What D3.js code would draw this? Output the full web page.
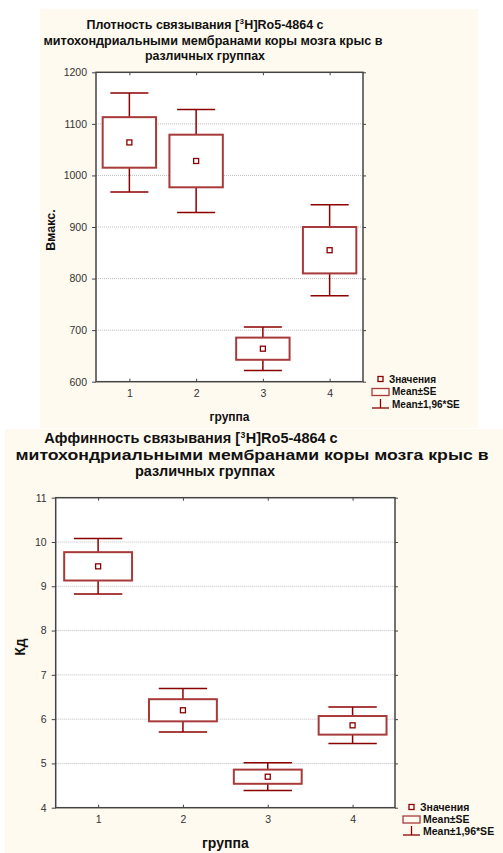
<!DOCTYPE html>
<html lang="ru">
<head>
<meta charset="utf-8">
<title>Ro5-4864 boxplots</title>
<script src="https://d3js.org/d3.v7.min.js"></script>
<style>
  body { margin: 0; background: #fff; }
  svg { display: block; font-family: "Liberation Sans", Arial, sans-serif; }
</style>
</head>
<body>
<script>
// data
var groups = [1, 2, 3, 4];
var bmaxMean = [1064, 1028, 664, 855];
var bmaxSE = [49, 51, 21.5, 45];
var bmaxTicks = [600, 700, 800, 900, 1000, 1100, 1200];

var kdMean = [9.45, 6.20, 4.70, 5.86];
var kdSE = [0.32, 0.25, 0.16, 0.21];
var kdTicks = [4, 5, 6, 7, 8, 9, 10, 11];

var legendItems = ["Значения", "Mean±SE", "Mean±1,96*SE"];

var w = 503, h = 853;
var dark = "#8b0000";
var boxCol = "#a83a3a";

var svg = d3.select("body").append("svg")
  .attr("width", w)
  .attr("height", h);

function panel(p) {
  var g = svg.append("g");

  g.append("rect")
    .attr("x", p.bg[0]).attr("y", p.bg[1])
    .attr("width", p.bg[2]).attr("height", p.bg[3])
    .attr("fill", "#fffaef");

  // title; plain lines are stretched to the width seen in the picture
  p.title.forEach(function(t, i) {
    var tx = g.append("text")
      .attr("x", t.x).attr("y", p.titleY[i])
      .attr("text-anchor", "middle")
      .attr("font-weight", "bold")
      .attr("font-size", p.titleSize)
      .attr("fill", "#111");
    if (t.sup) {
      tx.append("tspan").text(t.pre);
      tx.append("tspan").text("3").attr("font-size", p.titleSize * 0.6).attr("dx", 0.5).attr("dy", -5);
      tx.append("tspan").text(t.post).attr("dx", 0.5).attr("dy", 5);
    } else {
      tx.text(t.text)
        .attr("textLength", t.len)
        .attr("lengthAdjust", "spacingAndGlyphs");
    }
  });

  var x = d3.scaleLinear().domain([0.5, 4.5]).range([p.left, p.right]);
  var y = d3.scaleLinear().domain(p.domain).range([p.bottom, p.top]);
  var unit = x(1) - x(0);
  var fmt = d3.format("d");

  g.append("rect")
    .attr("x", p.left).attr("y", p.top)
    .attr("width", p.right - p.left).attr("height", p.bottom - p.top)
    .attr("fill", "#fff");

  // grid
  g.selectAll(".grid").data(p.ticks.slice(1, -1)).enter().append("line")
    .attr("x1", p.left).attr("x2", p.right)
    .attr("y1", function(d) { return y(d); })
    .attr("y2", function(d) { return y(d); })
    .attr("stroke", "#bdbdbd")
    .attr("stroke-dasharray", "1,1");

  // axes
  var yAxis = d3.axisLeft(y).tickValues(p.ticks).tickFormat(fmt).tickSize(4).tickPadding(5);
  g.append("g")
    .attr("transform", "translate(" + p.left + ",0)")
    .call(yAxis)
    .call(function(a) {
      a.select(".domain").remove();
      a.selectAll("text").attr("font-size", 10.5).attr("fill", "#333").attr("font-family", "Liberation Sans, Arial");
      a.selectAll("line").attr("stroke", "#444");
    });
  var yAxisR = d3.axisRight(y).tickValues(p.ticks).tickSize(3).tickFormat("");
  g.append("g")
    .attr("transform", "translate(" + p.right + ",0)")
    .call(yAxisR)
    .call(function(a) {
      a.select(".domain").remove();
      a.selectAll("line").attr("stroke", "#444");
    });
  var xAxis = d3.axisBottom(x).tickValues(groups).tickFormat(fmt).tickSize(-3).tickPadding(8);
  g.append("g")
    .attr("transform", "translate(0," + p.bottom + ")")
    .call(xAxis)
    .call(function(a) {
      a.select(".domain").remove();
      a.selectAll("text").attr("font-size", 10.5).attr("fill", "#333").attr("font-family", "Liberation Sans, Arial");
      a.selectAll("line").attr("stroke", "#444");
    });
  var xAxisT = d3.axisTop(x).tickValues(groups).tickSize(-3).tickFormat("");
  g.append("g")
    .attr("transform", "translate(0," + p.top + ")")
    .call(xAxisT)
    .call(function(a) {
      a.select(".domain").remove();
      a.selectAll("line").attr("stroke", "#444");
    });

  g.append("rect")
    .attr("x", p.left).attr("y", p.top)
    .attr("width", p.right - p.left).attr("height", p.bottom - p.top)
    .attr("fill", "none")
    .attr("stroke", "#444")
    .attr("stroke-width", 1.5);

  // boxes
  var rows = groups.map(function(gr, i) {
    return { g: gr, m: p.mean[i], se: p.se[i] };
  });
  var item = g.selectAll(".item").data(rows).enter().append("g");

  item.append("line")
    .attr("x1", function(d) { return x(d.g); })
    .attr("x2", function(d) { return x(d.g); })
    .attr("y1", function(d) { return y(d.m + 1.96 * d.se); })
    .attr("y2", function(d) { return y(d.m - 1.96 * d.se); })
    .attr("stroke", dark).attr("stroke-width", 1.5);
  [1.96, -1.96].forEach(function(k) {
    item.append("line")
      .attr("x1", function(d) { return x(d.g) - unit * 0.285; })
      .attr("x2", function(d) { return x(d.g) + unit * 0.285; })
      .attr("y1", function(d) { return y(d.m + k * d.se); })
      .attr("y2", function(d) { return y(d.m + k * d.se); })
      .attr("stroke", dark).attr("stroke-width", 1.5);
  });
  item.append("rect")
    .attr("x", function(d) { return x(d.g) - unit * 0.4; })
    .attr("width", unit * 0.8)
    .attr("y", function(d) { return y(d.m + d.se); })
    .attr("height", function(d) { return y(d.m - d.se) - y(d.m + d.se); })
    .attr("fill", "#fff")
    .attr("stroke", boxCol).attr("stroke-width", 2);
  item.append("rect")
    .attr("x", function(d) { return x(d.g) - 2.5; })
    .attr("y", function(d) { return y(d.m) - 2.5; })
    .attr("width", 5).attr("height", 5)
    .attr("fill", "#fff")
    .attr("stroke", dark).attr("stroke-width", 1.3);

  // axis titles
  g.append("text")
    .attr("transform", "translate(" + p.yLab[0] + "," + p.yLab[1] + ") rotate(-90)")
    .attr("text-anchor", "middle")
    .attr("font-weight", "bold").attr("font-size", p.yLabSize)
    .attr("fill", "#111")
    .text(p.yTitle);
  g.append("text")
    .attr("x", (p.left + p.right) / 2).attr("y", p.xLabY)
    .attr("text-anchor", "middle")
    .attr("font-weight", "bold").attr("font-size", p.xLabSize)
    .attr("fill", "#111")
    .text("группа");

  // legend
  var L = p.legend;
  g.append("rect")
    .attr("x", L.x + 3).attr("y", L.y - 2.5)
    .attr("width", 5).attr("height", 5)
    .attr("fill", "#fff").attr("stroke", dark).attr("stroke-width", 1.3);
  g.append("rect")
    .attr("x", L.x - 3).attr("y", L.y + L.dy - 3)
    .attr("width", 17).attr("height", 7)
    .attr("fill", "none").attr("stroke", boxCol).attr("stroke-width", 1.3);
  g.append("line")
    .attr("x1", L.x - 3).attr("x2", L.x + 14)
    .attr("y1", L.y + 2 * L.dy + 4).attr("y2", L.y + 2 * L.dy + 4)
    .attr("stroke", dark).attr("stroke-width", 1.3);
  g.append("line")
    .attr("x1", L.x + 5.5).attr("x2", L.x + 5.5)
    .attr("y1", L.y + 2 * L.dy - 5).attr("y2", L.y + 2 * L.dy + 4)
    .attr("stroke", dark).attr("stroke-width", 1.3);
  g.selectAll(".leg").data(legendItems).enter().append("text")
    .attr("x", function(d, i) { return i === 0 ? L.x + 14 : L.x + 17; })
    .attr("y", function(d, i) { return L.y + i * L.dy + 3.5; })
    .attr("font-weight", "bold").attr("font-size", L.size)
    .attr("fill", "#111")
    .text(function(d) { return d; });
}

panel({
  bg: [40, 9, 438, 419],
  left: 96, right: 363, top: 72.3, bottom: 381.7,
  domain: [600, 1200], ticks: bmaxTicks,
  mean: bmaxMean, se: bmaxSE,
  titleSize: 12.5, titleY: [29, 45, 60],
  title: [
    { x: 205, sup: true, pre: "Плотность связывания [", post: "H]Ro5-4864 с" },
    { x: 213, len: 339, text: "митохондриальными мембранами коры мозга крыс в" },
    { x: 205, len: 120, text: "различных группах" }
  ],
  yTitle: "Вмакс.", yLab: [55, 230], yLabSize: 12.5, xLabY: 421, xLabSize: 12,
  legend: { x: 375, y: 379, dy: 12.5, size: 10 }
});

panel({
  bg: [5, 429, 498, 424],
  left: 55.7, right: 395, top: 497.7, bottom: 807.7,
  domain: [4, 11], ticks: kdTicks,
  mean: kdMean, se: kdSE,
  titleSize: 14.5, titleY: [443, 460, 476],
  title: [
    { x: 191, sup: true, pre: "Аффинность связывания [", post: "H]Ro5-4864 с" },
    { x: 252, len: 473, text: "митохондриальными мембранами коры мозга крыс в" },
    { x: 205, len: 140, text: "различных группах" }
  ],
  yTitle: "Кд", yLab: [25, 647], yLabSize: 14, xLabY: 848, xLabSize: 14,
  legend: { x: 406, y: 807, dy: 12, size: 10.5 }
});
</script>
</body>
</html>
